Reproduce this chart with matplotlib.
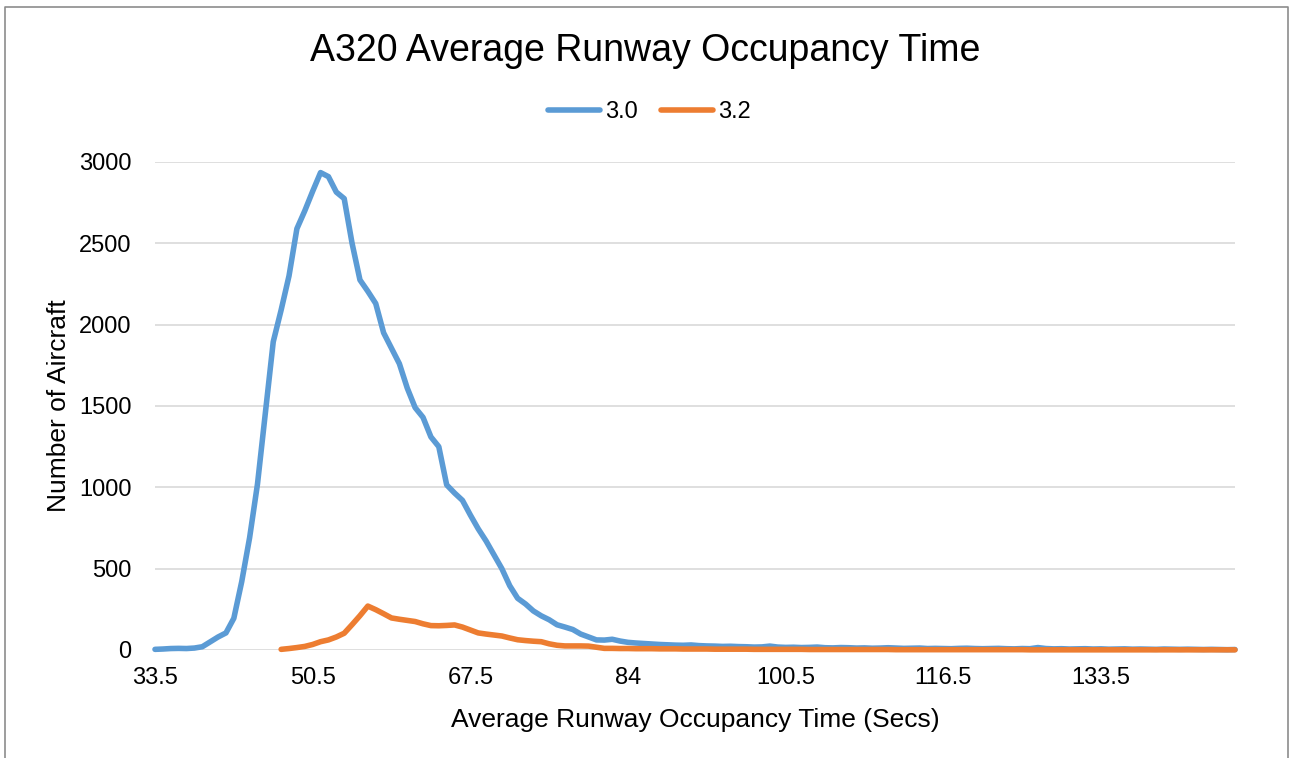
import numpy as np
import matplotlib
matplotlib.use('Agg')
import matplotlib.pyplot as plt
from matplotlib.lines import Line2D

plt.rcParams['font.family'] = ['Liberation Sans', 'DejaVu Sans']

# category ticks shown on the x axis (every 20th category)
tick_pos = [0, 20, 40, 60, 80, 100, 120]
tick_labels = ["33.5", "50.5", "67.5", "84", "100.5", "116.5", "133.5"]

# glide slope 3.0 degrees
s30 = [4, 6, 9, 10, 9, 12, 20, 50, 80, 105,
       195, 420, 690, 1020, 1455, 1895, 2090, 2300, 2590, 2700,
       2820, 2935, 2910, 2815, 2775, 2500, 2275, 2205, 2130, 1950,
       1855, 1760, 1610, 1490, 1430, 1310, 1250, 1015, 965, 920,
       830, 745, 670, 585, 500, 395, 318, 283, 240, 210,
       186, 155, 141, 126, 98, 80, 62, 61, 66, 55,
       47, 43,
       40, 37, 34, 32, 30, 29, 31, 27, 25, 24,
       22, 23, 21, 20, 18, 19, 24, 18, 16, 17,
       15, 16, 18, 14, 13, 15, 14, 12, 13, 11,
       12, 14, 12, 10, 11, 12, 9, 10, 9, 8,
       10, 11, 9, 8, 9, 10, 8, 7, 9, 8,
       15, 9, 7, 8, 6, 7, 8, 6, 7, 5,
       6, 7, 5, 6, 5, 4, 6, 5, 4, 5,
       4, 3, 4, 3, 2, 3]

# glide slope 3.2 degrees (no data for the first 16 categories)
s32 = [np.nan] * 16 + [
       4, 9, 15, 22, 34, 51, 62, 80, 103, 156,
       211, 270, 248, 223, 197, 189, 182, 175, 161, 150,
       149, 151, 154, 141, 123, 105, 98, 92, 86, 74,
       63, 58, 54, 51, 38, 29, 25, 25, 25, 24,
       17, 10,
       10, 9, 9, 8, 8, 8, 7, 7, 7, 6,
       6, 6, 6, 5, 5, 5, 5, 5, 4, 4,
       4, 4, 4, 4, 4, 3, 3, 3, 3, 3,
       3, 3, 3, 3, 3, 3, 2, 2, 2, 2,
       2, 2, 2, 2, 2, 2, 2, 2, 2, 2,
       2, 2, 2, 1, 1, 1, 1, 1, 1, 1,
       1, 1, 1, 1, 1, 1, 1, 1, 1, 1,
       1, 1, 1, 1, 1, 1, 1, 1, 1, 1]

x = np.arange(len(s30))

fig = plt.figure(figsize=(12.91, 7.58), dpi=100)
ax = fig.add_axes([155/1291, 108/758, 1080/1291, 488/758])

ax.plot(x, s30, color='#5B9BD5', lw=4.0, solid_joinstyle='round', solid_capstyle='round', label='3.0', clip_on=False, zorder=3)
ax.plot(x, s32, color='#ED7D31', lw=4.0, solid_joinstyle='round', solid_capstyle='round', label='3.2', clip_on=False, zorder=4)

ax.set_xlim(0, len(s30) - 1)
ax.set_ylim(0, 3000)
ax.set_yticks(np.arange(0, 3001, 500))
ax.set_xticks(tick_pos)
ax.set_xticklabels(tick_labels)
ax.tick_params(axis='both', length=0, labelsize=17, colors='#000000')
ax.tick_params(axis='x', pad=12)
ax.tick_params(axis='y', pad=17)
ax.grid(axis='y', color='#D9D9D9', lw=1.2)
ax.set_axisbelow(True)
for s in ax.spines.values():
    s.set_visible(False)

ax.set_xlabel('Average Runway Occupancy Time (Secs)', fontsize=19, labelpad=14)
ax.set_ylabel('Number of Aircraft', fontsize=19, labelpad=6)
fig.suptitle('A320 Average Runway Occupancy Time', fontsize=27, y=0.956)

fig.legend(loc='center', bbox_to_anchor=(0.503, 0.852), ncol=2, frameon=False,
           fontsize=17, handlelength=2.2, handletextpad=0.2, columnspacing=1.0)

# outer chart border (bottom edge is cut off in the original)
fig.add_artist(Line2D([5/1291, 5/1291, 1288/1291, 1288/1291], [0, 1 - 7/758, 1 - 7/758, 0],
                      transform=fig.transFigure, color='#8C8C8C', lw=1.2))

fig.savefig('out.png', dpi=100)
